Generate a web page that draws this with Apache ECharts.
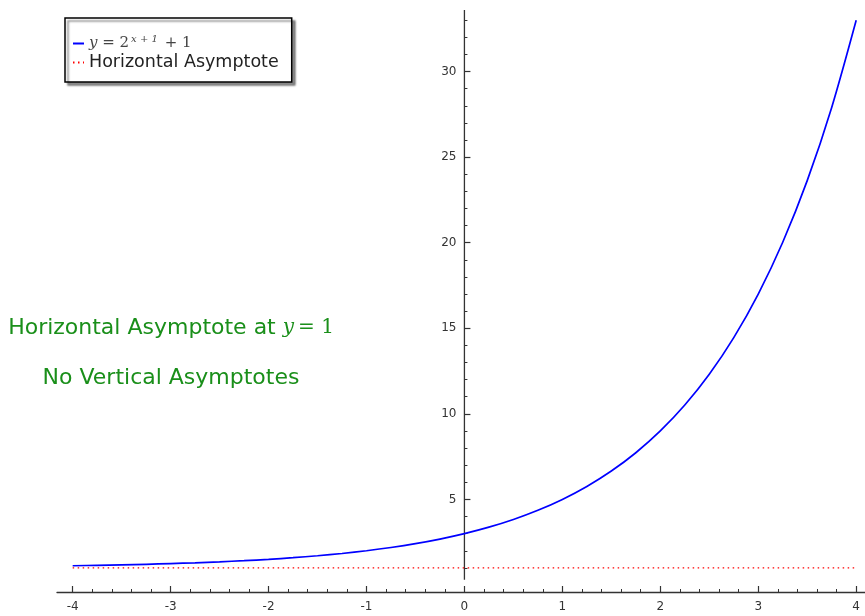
<!DOCTYPE html>
<html>
<head>
<meta charset="utf-8">
<title>y = 2^(x+1) + 1</title>
<script src="https://cdn.jsdelivr.net/npm/echarts@6/dist/echarts.min.js"></script>
<style>
html, body { margin: 0; padding: 0; background: #fff; }
#chart { width: 865px; height: 616px; }
</style>
</head>
<body>
<div id="chart"></div>
<script>
// curve samples (y = 2^(x+1) + 1)
var curveX = [-4, -3.75, -3.5, -3.25, -3, -2.75, -2.5, -2.25, -2, -1.75, -1.5, -1.25, -1,
    -0.75, -0.5, -0.25, 0, 0.25, 0.5, 0.75, 1, 1.25, 1.5, 1.75, 2, 2.25, 2.5, 2.75, 3,
    3.25, 3.5, 3.75, 4];
var curveY = [1.125, 1.149, 1.177, 1.21, 1.25, 1.297, 1.354, 1.42, 1.5, 1.595, 1.707, 1.841, 2,
    2.189, 2.414, 2.682, 3, 3.378, 3.828, 4.364, 5, 5.757, 6.657, 7.727, 9, 10.514, 12.314, 14.454, 17,
    20.027, 23.627, 27.909, 33];
// horizontal asymptote y = 1
var asymptoteX = [-4, 4];
var asymptoteY = [1, 1];
// vertical axis drawn at x = 0
var yAxisLineY = [0.3, 33.6];

var xTicks = [-4, -3, -2, -1, 0, 1, 2, 3, 4];
var yTicks = [5, 10, 15, 20, 25, 30];
var xMinorTicks = [];
for (var t = -40; t <= 40; t += 2) { xMinorTicks.push(t / 10); }
var yMinorTicks = [];
for (var u = 1; u <= 33; u++) { yMinorTicks.push(u); }

var X_MIN = -4.16, X_MAX = 4.09, Y_MIN = -0.41, Y_MAX = 33.6;
var axisColor = '#333';
var green = '#1a8f1a';

function pairs(xs, ys) {
    var out = [];
    for (var i = 0; i < xs.length; i++) { out.push([xs[i], ys[i]]); }
    return out;
}

var chart = echarts.init(document.getElementById('chart'));

// grid 0 holds the data, grid 1 starts at x = 0 and carries the vertical axis ticks/labels
var plotLeft = 57, plotWidth = 865 - plotLeft;
var zeroX = plotLeft + (0 - X_MIN) / (X_MAX - X_MIN) * plotWidth;

var option = {
    animation: false,
    grid: [
        { left: plotLeft, right: 0, top: 10, bottom: 24 },
        { left: zeroX, right: 0, top: 10, bottom: 24 }
    ],
    xAxis: [
        {
            type: 'value', gridIndex: 0, min: X_MIN, max: X_MAX, position: 'bottom',
            splitLine: { show: false },
            axisLine: { onZero: false, lineStyle: { color: axisColor, width: 1.3 } },
            axisTick: { customValues: xTicks, inside: true, length: 6, lineStyle: { color: axisColor, width: 1.2 } },
            axisLabel: { customValues: xTicks, margin: 9, fontSize: 12, fontFamily: 'DejaVu Sans', color: '#333' }
        },
        {
            type: 'value', gridIndex: 0, min: X_MIN, max: X_MAX, position: 'bottom', offset: 0,
            splitLine: { show: false },
            axisLine: { show: false, onZero: false },
            axisTick: { customValues: xMinorTicks, inside: true, length: 3, lineStyle: { color: axisColor, width: 1 } },
            axisLabel: { show: false }
        },
        {
            type: 'value', gridIndex: 1, show: false, min: 0, max: 1
        }
    ],
    yAxis: [
        {
            type: 'value', gridIndex: 0, show: false, min: Y_MIN, max: Y_MAX
        },
        {
            type: 'value', gridIndex: 1, min: Y_MIN, max: Y_MAX, position: 'left',
            splitLine: { show: false },
            axisLine: { show: false, onZero: false },
            axisTick: { customValues: yTicks, inside: true, length: 6, lineStyle: { color: axisColor, width: 1.2 } },
            axisLabel: { customValues: yTicks, margin: 8, fontSize: 12, fontFamily: 'DejaVu Sans', color: '#333' }
        },
        {
            type: 'value', gridIndex: 1, min: Y_MIN, max: Y_MAX, position: 'left', offset: 0,
            splitLine: { show: false },
            axisLine: { show: false, onZero: false },
            axisTick: { customValues: yMinorTicks, inside: true, length: 3, lineStyle: { color: axisColor, width: 1 } },
            axisLabel: { show: false }
        }
    ],
    legend: {
        data: ['curve', 'Horizontal Asymptote'],
        orient: 'vertical',
        left: 65, top: 18,
        itemWidth: 11, itemHeight: 8, itemGap: 0,
        padding: [16, 13, 10, 7],
        backgroundColor: '#fff',
        borderColor: '#000', borderWidth: 1.5, borderRadius: 0,
        shadowColor: 'rgba(0,0,0,0.45)', shadowBlur: 2, shadowOffsetX: 3, shadowOffsetY: 3,
        itemStyle: { opacity: 0 },
        textStyle: {
            fontFamily: 'DejaVu Sans', fontSize: 17.5, color: '#222', lineHeight: 19,
            rich: {
                m: { fontFamily: 'DejaVu Serif', fontStyle: 'italic', fontSize: 15, color: '#444' },
                o: { fontFamily: 'DejaVu Serif', fontSize: 15, color: '#444' },
                s: { fontFamily: 'DejaVu Serif', fontStyle: 'italic', fontSize: 10, color: '#444', padding: [0, 2, 8, 2] }
            }
        },
        formatter: function (name) {
            if (name === 'curve') { return '{m|y}{o| = 2}{s|x + 1}{o| + 1}'; }
            return name;
        }
    },
    graphic: [
        {
            type: 'text', x: 171, y: 328,
            style: {
                text: '{a|Horizontal Asymptote at }{m|y}{n|= 1}',
                align: 'center', verticalAlign: 'middle',
                rich: {
                    a: { fontFamily: 'DejaVu Sans', fontSize: 22, fill: green },
                    m: { fontFamily: 'DejaVu Serif', fontStyle: 'italic', fontSize: 20, fill: green, padding: [0, 4, 0, 0] },
                    n: { fontFamily: 'DejaVu Serif', fontSize: 20, fill: green }
                }
            }
        },
        {
            type: 'text', x: 171, y: 378,
            style: {
                text: 'No Vertical Asymptotes',
                align: 'center', verticalAlign: 'middle',
                font: '22px "DejaVu Sans"', fill: green
            }
        }
    ],
    series: [
        {
            name: 'curve', type: 'line', xAxisIndex: 0, yAxisIndex: 0,
            data: pairs(curveX, curveY),
            smooth: 0.3, symbol: 'none',
            itemStyle: { color: '#0000ff' },
            lineStyle: { color: '#0000ff', width: 1.7 },
            z: 5
        },
        {
            name: 'Horizontal Asymptote', type: 'line', xAxisIndex: 0, yAxisIndex: 0,
            data: pairs(asymptoteX, asymptoteY),
            symbol: 'none',
            itemStyle: { color: '#ff0000' },
            lineStyle: { color: '#ff0000', width: 1.2, type: [1.5, 3.5] },
            z: 4
        },
        {
            name: 'yaxis', type: 'line', xAxisIndex: 0, yAxisIndex: 0,
            data: pairs([0, 0], yAxisLineY),
            symbol: 'none', silent: true,
            lineStyle: { color: axisColor, width: 1.3 },
            z: 3
        }
    ]
};

chart.setOption(option);
</script>
</body>
</html>
